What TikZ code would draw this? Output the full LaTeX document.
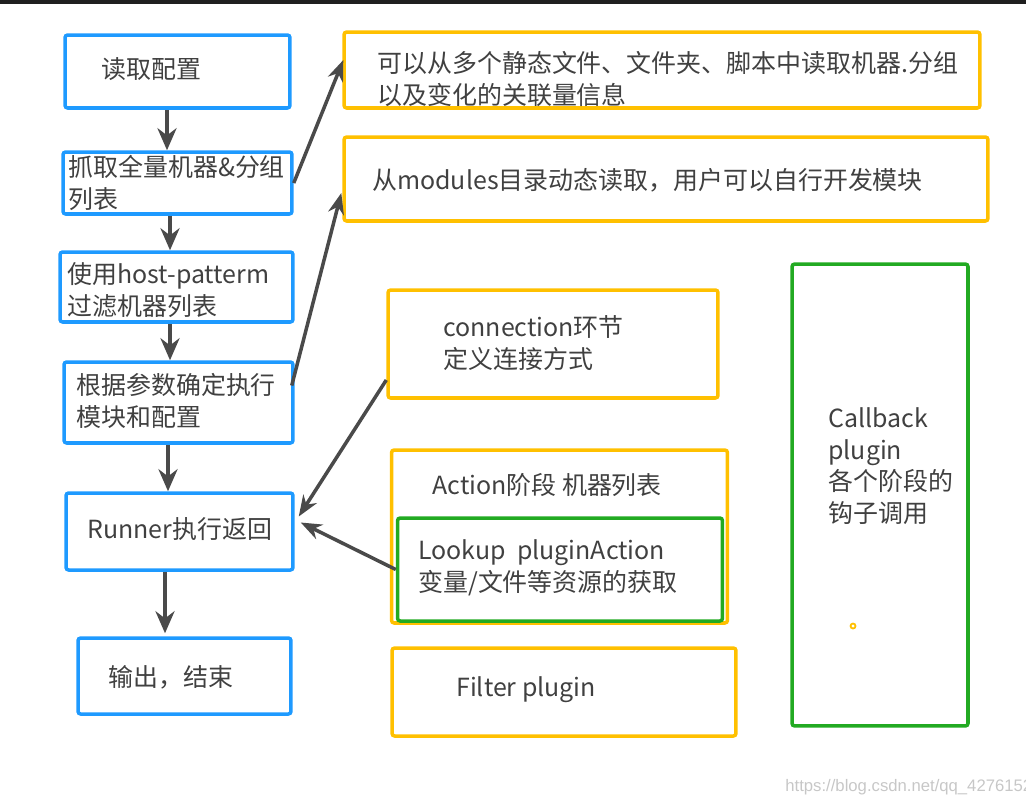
\documentclass[tikz,border=0pt]{standalone}
\usepackage{fontspec}
\setmainfont{Noto Sans CJK SC}
\newfontfamily\wmfont{Liberation Sans}
\usetikzlibrary{arrows.meta,calc}

\definecolor{boxblue}{RGB}{30,154,255}
\definecolor{boxyellow}{RGB}{255,192,0}
\definecolor{boxgreen}{RGB}{34,170,34}
\definecolor{textgray}{RGB}{64,64,64}
\definecolor{arrowgray}{RGB}{74,74,74}

\tikzset{
  bluebox/.style={draw=boxblue, line width=2pt, rounded corners=1.5pt, inner sep=0pt},
  yellowbox/.style={draw=boxyellow, line width=2pt, rounded corners=1.5pt, inner sep=0pt},
  greenbox/.style={draw=boxgreen, line width=2pt, rounded corners=1.5pt, inner sep=0pt},
  txt/.style={anchor=west, align=left, inner sep=0pt, text=textgray,
    font=\fontsize{14.2}{18}\selectfont},
  flow/.style={draw=arrowgray, line width=2.6pt, -{Stealth[length=0.44cm,width=0.38cm]}},
  link/.style={draw=arrowgray, line width=2pt, -{Stealth[length=0.42cm,width=0.32cm]}}
}

\begin{document}
\begin{tikzpicture}[x=0.02cm, y=-0.02cm]
    \useasboundingbox (0,0) rectangle (1026,802);
    \fill[black!88] (0,0) rectangle (1026,4);

    % Main flow (left column)
    \node[bluebox, minimum width=4.5cm, minimum height=1.46cm] (read) at (177.5,71.5) {};
    \node[bluebox, minimum width=4.58cm, minimum height=1.24cm] (fetch) at (177.5,183) {};
    \node[bluebox, minimum width=4.66cm, minimum height=1.4cm] (filter) at (176.5,287) {};
    \node[bluebox, minimum width=4.58cm, minimum height=1.62cm] (parse) at (178.5,402.5) {};
    \node[bluebox, minimum width=4.54cm, minimum height=1.54cm] (runner) at (179.5,531.5) {};
    \node[bluebox, minimum width=4.26cm, minimum height=1.52cm] (output) at (184.5,676) {};

    \node[txt] (readtxt) at (101,69) {读取配置};
    \node[txt] (fetchtxt) at (68,183) {抓取全量机器\&分组\\列表};
    \node[txt] (filtertxt) at (67,290) {使用host-patterm\\过滤机器列表};
    \node[txt] (parsetxt) at (76,401) {根据参数确定执行\\模块和配置};
    \node[txt] (runnertxt) at (87,529) {Runner执行返回};
    \node[txt] (outputtxt) at (108,677) {输出，结束};

    % Plugins (right side)
    \node[yellowbox, minimum width=12.72cm, minimum height=1.52cm] (inv) at (662,70) {};
    \node[yellowbox, minimum width=12.88cm, minimum height=1.68cm] (mods) at (666,179) {};
    \node[yellowbox, minimum width=6.6cm, minimum height=2.16cm] (conn) at (553,344) {};
    \node[yellowbox, minimum width=6.72cm, minimum height=3.46cm] (action) at (559.5,536.5) {};
    \node[greenbox, minimum width=6.5cm, minimum height=2.06cm] (lookup) at (560,569.5) {};
    \node[yellowbox, minimum width=6.88cm, minimum height=1.76cm] (filt) at (564,692) {};
    \node[greenbox, minimum width=3.52cm, minimum height=9.24cm] (callback) at (880,495) {};

    \node[txt] (invtxt) at (377,79) {可以从多个静态文件、文件夹、脚本中读取机器.分组\\以及变化的关联量信息};
    \node[txt] (modstxt) at (372,180) {从modules目录动态读取，用户可以自行开发模块};
    \node[txt] (conntxt) at (443,343) {connection环节\\定义连接方式};
    \node[txt] (actiontxt) at (432,485) {Action阶段 机器列表};
    \node[txt] (lookuptxt) at (418,568) {Lookup\ \ pluginAction\\变量/文件等资源的获取};
    \node[txt] (filttxt) at (456,690) {Filter plugin};
    \node[txt] (callbacktxt) at (828,466) {Callback\\plugin\\各个阶段的\\钩子调用};

    \draw[boxyellow, line width=1pt] (853,626) circle[radius=0.05cm];

    % Connectors
    \draw[flow] (read.south -| 167,0) -- (fetch.north -| 167,0);
    \draw[flow] (fetch.south -| 170,0) -- (filter.north -| 170,0);
    \draw[flow] (filter.south -| 170,0) -- (parse.north -| 170,0);
    \draw[flow] (parse.south -| 168,0) -- (runner.north -| 168,0);
    \draw[flow] (runner.south -| 165,0) -- ($(output.north -| 165,0)+(0,-3)$);

    \draw[link] (fetch.east) -- ($(inv.west)+(1,-10)$);
    \draw[link] ($(parse.east)+(-3,-17)$) -- ($(mods.west)+(-1,14)$);
    \draw[link] ($(conn.west)+(0,36)$) -- ($(runner.east)+(4,-15)$);
    \draw[link] (lookup.west) -- ($(runner.east)+(6,-9)$);

    % Watermark
    \node[anchor=west, inner sep=0pt, text=black!22, font=\wmfont\fontsize{9.5}{11}\selectfont]
      (mark) at (785,787) {https://blog.csdn.net/qq\_42761527};
\end{tikzpicture}
\end{document}
